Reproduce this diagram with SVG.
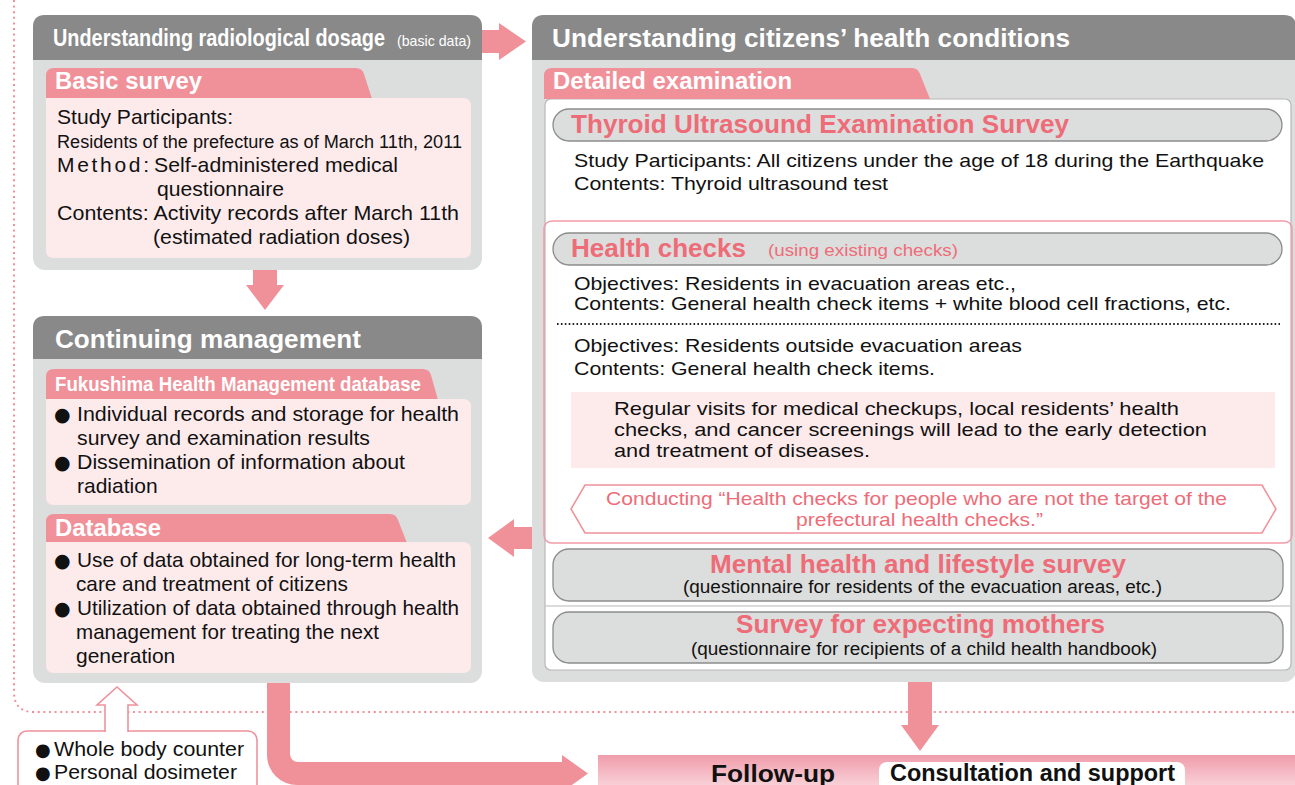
<svg xmlns="http://www.w3.org/2000/svg" width="1295" height="785" viewBox="0 0 1295 785">
<defs>
<style>
.hdr{fill:#898989}
.bodyg{fill:#dcdddd}
.tab{fill:#f0919a}
.panel{fill:#fdebec}
.arr{fill:#f0919a}
.f{font-family:"Liberation Sans",Arial,sans-serif}
.ttl{font-family:"Liberation Sans",Arial,sans-serif;font-weight:bold;fill:#ffffff}
.tx{font-family:"Liberation Sans",Arial,sans-serif;fill:#111111}
.pk{font-family:"Liberation Sans",Arial,sans-serif;fill:#ee6c78}
.pkb{font-family:"Liberation Sans",Arial,sans-serif;fill:#ee6c78;font-weight:bold}
.pill{fill:#dcdddd;stroke:#8c8c8c;stroke-width:1.3}
.bul{font-family:"DejaVu Sans","Liberation Sans",sans-serif;fill:#111111}
</style>
<linearGradient id="fg" x1="0" y1="0" x2="0" y2="1">
<stop offset="0" stop-color="#f09dab"/>
<stop offset="0.35" stop-color="#f4b4bf"/>
<stop offset="1" stop-color="#fbe2e6"/>
</linearGradient>
</defs>
<rect width="1295" height="785" fill="#ffffff"/>

<!-- dotted boundary -->
<path d="M14,0 V692 Q14,712 34,712 H1295" fill="none" stroke="#f0919a" stroke-width="2" stroke-dasharray="2 3.6"/>

<g id="radiological-dosage">
<rect x="33" y="15" width="449" height="255" rx="12" class="bodyg"/>
<path class="hdr" d="M33,60 V27 Q33,15 45,15 H470 Q482,15 482,27 V60 Z"/>
<text class="ttl" transform="translate(53,46) scale(0.83,1)" x="0" y="0" font-size="24" textLength="400" lengthAdjust="spacingAndGlyphs">Understanding radiological dosage</text>
<text class="f" x="397" y="46" font-size="15" fill="#ffffff" textLength="74" lengthAdjust="spacingAndGlyphs">(basic data)</text>
<path class="tab" d="M46,99 V76 Q46,68 54,68 H356 Q362,68 364,74 L372,99 Z"/>
<text class="ttl" x="55" y="89" font-size="24" textLength="147" lengthAdjust="spacingAndGlyphs">Basic survey</text>
<path class="panel" d="M46,98 H463 Q471,98 471,106 V250 Q471,258 463,258 H54 Q46,258 46,250 Z"/>
<g class="tx" font-size="21">
<text x="57" y="124" textLength="176" lengthAdjust="spacingAndGlyphs">Study Participants:</text>
<text x="57" y="148" font-size="18" textLength="405" lengthAdjust="spacingAndGlyphs">Residents of the prefecture as of March 11th, 2011</text>
<text y="172"><tspan x="57" textLength="92" lengthAdjust="spacing">Method:</tspan><tspan x="154" textLength="244" lengthAdjust="spacingAndGlyphs">Self-administered medical</tspan></text>
<text x="157" y="196" textLength="127" lengthAdjust="spacingAndGlyphs">questionnaire</text>
<text x="57" y="220" textLength="402" lengthAdjust="spacingAndGlyphs">Contents: Activity records after March 11th</text>
<text x="153" y="244" textLength="257" lengthAdjust="spacingAndGlyphs">(estimated radiation doses)</text>
</g>
</g>

<g id="continuing-management">
<rect x="33" y="316" width="449" height="367" rx="12" class="bodyg"/>
<path class="hdr" d="M33,359 V328 Q33,316 45,316 H470 Q482,316 482,328 V359 Z"/>
<text class="ttl" x="55" y="348" font-size="26" textLength="306" lengthAdjust="spacingAndGlyphs">Continuing management</text>
<path class="tab" d="M46,400 V377 Q46,369 54,369 H423 Q429,369 431,375 L438,400 Z"/>
<text class="ttl" x="55" y="391" font-size="21" textLength="366" lengthAdjust="spacingAndGlyphs">Fukushima Health Management database</text>
<path class="panel" d="M46,399 H463 Q471,399 471,407 V497 Q471,505 463,505 H54 Q46,505 46,497 Z"/>
<g class="tx" font-size="21">
<text y="421"><tspan class="bul" x="54" font-size="19">●</tspan><tspan x="77" textLength="382" lengthAdjust="spacingAndGlyphs">Individual records and storage for health</tspan></text>
<text x="77" y="445" textLength="293" lengthAdjust="spacingAndGlyphs">survey and examination results</text>
<text y="469"><tspan class="bul" x="54" font-size="19">●</tspan><tspan x="77" textLength="328" lengthAdjust="spacingAndGlyphs">Dissemination of information about</tspan></text>
<text x="77" y="493">radiation</text>
</g>
<path class="tab" d="M46,543 V522 Q46,514 54,514 H390 Q396,514 398,520 L407,543 Z"/>
<text class="ttl" x="55" y="536" font-size="24" textLength="106" lengthAdjust="spacingAndGlyphs">Database</text>
<path class="panel" d="M46,542 H463 Q471,542 471,550 V665 Q471,673 463,673 H54 Q46,673 46,665 Z"/>
<g class="tx" font-size="21">
<text y="567"><tspan class="bul" x="54" font-size="19">●</tspan><tspan x="77" textLength="379" lengthAdjust="spacingAndGlyphs">Use of data obtained for long-term health</tspan></text>
<text x="76" y="591" textLength="272" lengthAdjust="spacingAndGlyphs">care and treatment of citizens</text>
<text y="615"><tspan class="bul" x="54" font-size="19">●</tspan><tspan x="77" textLength="382" lengthAdjust="spacingAndGlyphs">Utilization of data obtained through health</tspan></text>
<text x="76" y="639" textLength="303" lengthAdjust="spacingAndGlyphs">management for treating the next</text>
<text x="76" y="663">generation</text>
</g>
</g>

<g id="health-conditions">
<rect x="532" y="15" width="764" height="667" rx="12" class="bodyg"/>
<path class="hdr" d="M532,60 V27 Q532,15 544,15 H1284 Q1296,15 1296,27 V60 Z"/>
<text class="ttl" x="552" y="47" font-size="26" textLength="518" lengthAdjust="spacingAndGlyphs">Understanding citizens’ health conditions</text>
<rect x="545" y="99" width="746" height="571" rx="6" fill="#ffffff" stroke="#b8b8b8" stroke-width="1.2"/>
<path class="tab" d="M544,99 V76 Q544,68 552,68 H912 Q918,68 920,74 L930,99 Z"/>
<text class="ttl" x="553" y="89" font-size="23" textLength="239" lengthAdjust="spacingAndGlyphs">Detailed examination</text>

<g id="thyroid">
<rect x="553" y="109" width="729" height="32" rx="16" class="pill"/>
<text class="pkb" x="571" y="133" font-size="26" textLength="498" lengthAdjust="spacingAndGlyphs">Thyroid Ultrasound Examination Survey</text>
<text class="tx" x="574" y="167" font-size="19" textLength="690" lengthAdjust="spacingAndGlyphs">Study Participants: All citizens under the age of 18 during the Earthquake</text>
<text class="tx" x="574" y="190" font-size="19" textLength="314" lengthAdjust="spacingAndGlyphs">Contents: Thyroid ultrasound test</text>
</g>

<g id="health-checks">
<rect x="544" y="221" width="748" height="322" rx="8" fill="none" stroke="#f29aa8" stroke-width="1.5"/>
<rect x="553" y="233" width="729" height="32" rx="16" class="pill"/>
<text class="pkb" x="571" y="257" font-size="26" textLength="175" lengthAdjust="spacingAndGlyphs">Health checks</text>
<text class="pk" x="768" y="256" font-size="17" textLength="190" lengthAdjust="spacingAndGlyphs">(using existing checks)</text>
<text class="tx" x="574" y="290" font-size="19" textLength="442" lengthAdjust="spacingAndGlyphs">Objectives: Residents in evacuation areas etc.,</text>
<text class="tx" x="574" y="310" font-size="19" textLength="657" lengthAdjust="spacingAndGlyphs">Contents: General health check items + white blood cell fractions, etc.</text>
<line x1="557" y1="324" x2="1280" y2="324" stroke="#222222" stroke-width="2" stroke-dasharray="1.6 2.3"/>
<text class="tx" x="574" y="352" font-size="19" textLength="448" lengthAdjust="spacingAndGlyphs">Objectives: Residents outside evacuation areas</text>
<text class="tx" x="574" y="375" font-size="19" textLength="361" lengthAdjust="spacingAndGlyphs">Contents: General health check items.</text>
<rect x="571" y="392" width="704" height="76" class="panel"/>
<text class="tx" x="614" y="415" font-size="19" textLength="565" lengthAdjust="spacingAndGlyphs">Regular visits for medical checkups, local residents’ health</text>
<text class="tx" x="614" y="436" font-size="19" textLength="593" lengthAdjust="spacingAndGlyphs">checks, and cancer screenings will lead to the early detection</text>
<text class="tx" x="614" y="457" font-size="19" textLength="256" lengthAdjust="spacingAndGlyphs">and treatment of diseases.</text>
<polygon points="585,485 1262,485 1276,509 1262,533 585,533 571,509" fill="#ffffff" stroke="#f0919a" stroke-width="1.5"/>
<text class="pk" x="916.5" y="505" font-size="19" text-anchor="middle" textLength="621" lengthAdjust="spacingAndGlyphs">Conducting “Health checks for people who are not the target of the</text>
<text class="pk" x="919.5" y="526" font-size="19" text-anchor="middle" textLength="247" lengthAdjust="spacingAndGlyphs">prefectural health checks.”</text>
</g>

<g id="mental-health">
<rect x="553" y="549" width="730" height="52" rx="16" class="pill"/>
<text class="pkb" x="918" y="573" font-size="26" text-anchor="middle" textLength="416" lengthAdjust="spacingAndGlyphs">Mental health and lifestyle survey</text>
<text class="tx" x="922.5" y="593" font-size="17.5" text-anchor="middle" textLength="479" lengthAdjust="spacingAndGlyphs">(questionnaire for residents of the evacuation areas, etc.)</text>
</g>
<line x1="545" y1="606" x2="1291" y2="606" stroke="#cfcfcf" stroke-width="1.5"/>
<g id="expecting-mothers">
<rect x="553" y="612" width="730" height="51" rx="16" class="pill"/>
<text class="pkb" x="920.5" y="633" font-size="26" text-anchor="middle" textLength="369" lengthAdjust="spacingAndGlyphs">Survey for expecting mothers</text>
<text class="tx" x="924" y="655" font-size="17.5" text-anchor="middle" textLength="466" lengthAdjust="spacingAndGlyphs">(questionnaire for recipients of a child health handbook)</text>
</g>
</g>

<g id="measurement">
<rect x="18" y="731" width="239" height="80" rx="9" fill="#ffffff" stroke="#f0919a" stroke-width="1.6"/>
<path d="M105,732 V705 H97 L117,687 L137,705 H128 V732" fill="#ffffff" stroke="#f0919a" stroke-width="1.6"/>
<text class="tx" y="756" font-size="20"><tspan class="bul" x="35" font-size="18">●</tspan><tspan x="54" textLength="190" lengthAdjust="spacingAndGlyphs">Whole body counter</tspan></text>
<text class="tx" y="779" font-size="20"><tspan class="bul" x="35" font-size="18">●</tspan><tspan x="54" textLength="183" lengthAdjust="spacingAndGlyphs">Personal dosimeter</tspan></text>
</g>

<g id="follow-up">
<rect x="598" y="755" width="700" height="40" fill="url(#fg)"/>
<rect x="879" y="762" width="306" height="32" rx="8" fill="#ffffff"/>
<text class="tx" x="711" y="782" font-size="24" font-weight="bold" textLength="124" lengthAdjust="spacingAndGlyphs">Follow-up</text>
<text class="tx" x="890" y="781" font-size="23" font-weight="bold" textLength="285" lengthAdjust="spacingAndGlyphs">Consultation and support</text>
</g>

<g id="connectors">
<polygon class="arr" points="482,30 499,30 499,23 526,41.5 499,60 499,53 482,53"/>
<polygon class="arr" points="253,270 277,270 277,285 284,285 265,310 246,285 253,285"/>
<polygon class="arr" points="532,527 514,527 514,519 488,538 514,557 514,549 532,549"/>
<polygon class="arr" points="908,682 932,682 932,725 939,725 920,751 901,725 908,725"/>
<path class="arr" d="M267,683 V755 A30,30 0 0 0 297,785 H562 V792 L588,773.5 L562,755 V762 H298 A8,8 0 0 1 290,754 V683 Z"/>
</g>
</svg>
